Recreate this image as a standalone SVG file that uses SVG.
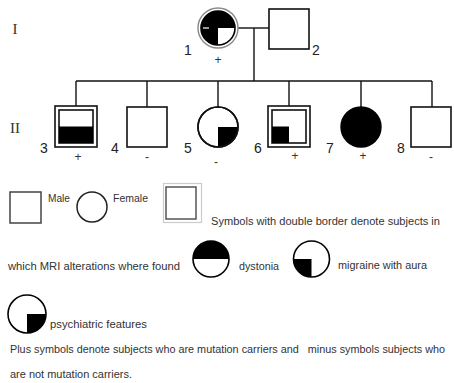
<svg xmlns="http://www.w3.org/2000/svg" width="454" height="383" viewBox="0 0 454 383">
<style>
.sym{fill:#fff;stroke:#111;stroke-width:1.6}
.blk{fill:#000;stroke:none}
.wht{fill:#fff;stroke:none}
.outer{fill:#fff;stroke:#888;stroke-width:1.4}
.ln{stroke:#111;stroke-width:1.4;fill:none}
.num{font-family:"Liberation Sans",Arial,sans-serif;font-size:14px;fill:#222}
.pm{font-family:"Liberation Sans",Arial,sans-serif;font-size:12px;fill:#333;text-anchor:middle}
.rom{font-family:"Liberation Serif","Times New Roman",serif;font-size:15px;fill:#333;text-anchor:middle}
.txt{font-family:"Liberation Sans",Arial,sans-serif;font-size:10px;fill:#333;white-space:pre}
</style>
<rect width="454" height="383" fill="#fff"/>
<g id="generations">
<text class="rom" x="15" y="34">I</text>
<text class="rom" x="15" y="133">II</text>
</g>
<g id="connectors">
<line class="ln" x1="238" y1="28" x2="269" y2="28"/>
<line class="ln" x1="254" y1="28" x2="254" y2="81"/>
<line class="ln" x1="76" y1="81" x2="432" y2="81"/>
<line class="ln" x1="76" y1="81" x2="76" y2="106"/>
<line class="ln" x1="147" y1="81" x2="147" y2="107"/>
<line class="ln" x1="218" y1="81" x2="218" y2="107"/>
<line class="ln" x1="289" y1="81" x2="289" y2="106"/>
<line class="ln" x1="361" y1="81" x2="361" y2="107"/>
<line class="ln" x1="432" y1="81" x2="432" y2="107"/>
</g>
<g id="n1">
<circle class="outer" cx="218" cy="28" r="20"/>
<circle class="blk" cx="218" cy="28" r="17"/>
<path class="wht" d="M218,28 L235,28 A17,17 0 0 1 218,45 Z"/>
<line x1="203" y1="28" x2="209" y2="28" stroke="#fff" stroke-width="1.2"/>
<circle cx="218" cy="28" r="17" fill="none" stroke="#000" stroke-width="1.6"/>
<text class="num" x="184" y="55">1</text>
<text class="pm" x="218" y="64">+</text>
</g>
<g id="n2">
<rect class="sym" x="269" y="9" width="40" height="40"/>
<text class="num" x="312" y="55">2</text>
</g>
<g id="n3">
<rect class="sym" x="55" y="106" width="42" height="41"/>
<rect class="sym" x="59" y="110" width="34" height="33"/>
<rect class="blk" x="59" y="126.5" width="34" height="16.5"/>
<text class="num" x="40" y="153">3</text>
<text class="pm" x="78" y="161">+</text>
</g>
<g id="n4">
<rect class="sym" x="127" y="107" width="40" height="40"/>
<text class="num" x="111" y="153">4</text>
<text class="pm" x="147" y="161">-</text>
</g>
<g id="n5">
<circle class="sym" cx="218" cy="127" r="20"/>
<path class="blk" d="M218,127 L238,127 A20,20 0 0 1 218,147 Z"/>
<circle cx="218" cy="127" r="20" fill="none" stroke="#111" stroke-width="1.6"/>
<text class="num" x="184" y="153">5</text>
<text class="pm" x="216" y="166">-</text>
</g>
<g id="n6">
<rect class="sym" x="268" y="106" width="42" height="41"/>
<rect class="sym" x="272" y="110" width="34" height="33"/>
<rect class="blk" x="272" y="126.5" width="17" height="16.5"/>
<text class="num" x="254" y="153">6</text>
<text class="pm" x="295" y="160">+</text>
</g>
<g id="n7">
<circle cx="361" cy="127" r="20" fill="#000" stroke="#000" stroke-width="1.4"/>
<text class="num" x="326" y="153">7</text>
<text class="pm" x="363" y="160">+</text>
</g>
<g id="n8">
<rect class="sym" x="411" y="107" width="40" height="40"/>
<text class="num" x="397" y="153">8</text>
<text class="pm" x="431" y="161">-</text>
</g>
<g id="legend">
<rect x="10" y="192" width="31" height="31" fill="#fff" stroke="#444" stroke-width="1.5"/>
<text class="txt" x="48" y="202" textLength="22" lengthAdjust="spacingAndGlyphs" font-size="8.5">Male</text>
<circle cx="92" cy="207" r="15" fill="#fff" stroke="#222" stroke-width="1.5"/>
<text class="txt" x="113" y="202" textLength="35" lengthAdjust="spacingAndGlyphs" font-size="8.5">Female</text>
<rect x="163.5" y="183.5" width="38" height="39" fill="#fff" stroke="#ccc" stroke-width="1.2"/>
<rect x="166" y="187" width="30" height="32" fill="#fff" stroke="#555" stroke-width="1.5"/>
<text class="txt" x="211" y="225" textLength="229" lengthAdjust="spacingAndGlyphs">Symbols with double border denote subjects in</text>
<text class="txt" x="8" y="270" textLength="172" lengthAdjust="spacingAndGlyphs">which MRI alterations where found</text>
<circle cx="211" cy="259" r="18" fill="#fff"/>
<path class="blk" d="M193,259 A18,18 0 0 1 229,259 Z"/>
<circle cx="211" cy="259" r="18" fill="none" stroke="#000" stroke-width="1.6"/>
<text class="txt" x="239" y="270" textLength="40" lengthAdjust="spacingAndGlyphs">dystonia</text>
<circle cx="311.5" cy="259" r="18" fill="#fff"/>
<path class="blk" d="M311.5,259 L311.5,277 A18,18 0 0 1 293.5,259 Z"/>
<circle cx="311.5" cy="259" r="18" fill="none" stroke="#000" stroke-width="1.6"/>
<text class="txt" x="338" y="269" textLength="89" lengthAdjust="spacingAndGlyphs">migraine with aura</text>
<circle cx="27" cy="314" r="19" fill="#fff"/>
<path class="blk" d="M27,314 L46,314 A19,19 0 0 1 27,333 Z"/>
<circle cx="27" cy="314" r="19" fill="none" stroke="#000" stroke-width="1.6"/>
<text class="txt" x="50" y="328" textLength="97" lengthAdjust="spacingAndGlyphs">psychiatric features</text>
<text class="txt" x="10" y="353" textLength="435" lengthAdjust="spacingAndGlyphs">Plus symbols denote subjects who are mutation carriers and   minus symbols subjects who</text>
<text class="txt" x="10" y="378" textLength="122" lengthAdjust="spacingAndGlyphs">are not mutation carriers.</text>
</g>
</svg>
